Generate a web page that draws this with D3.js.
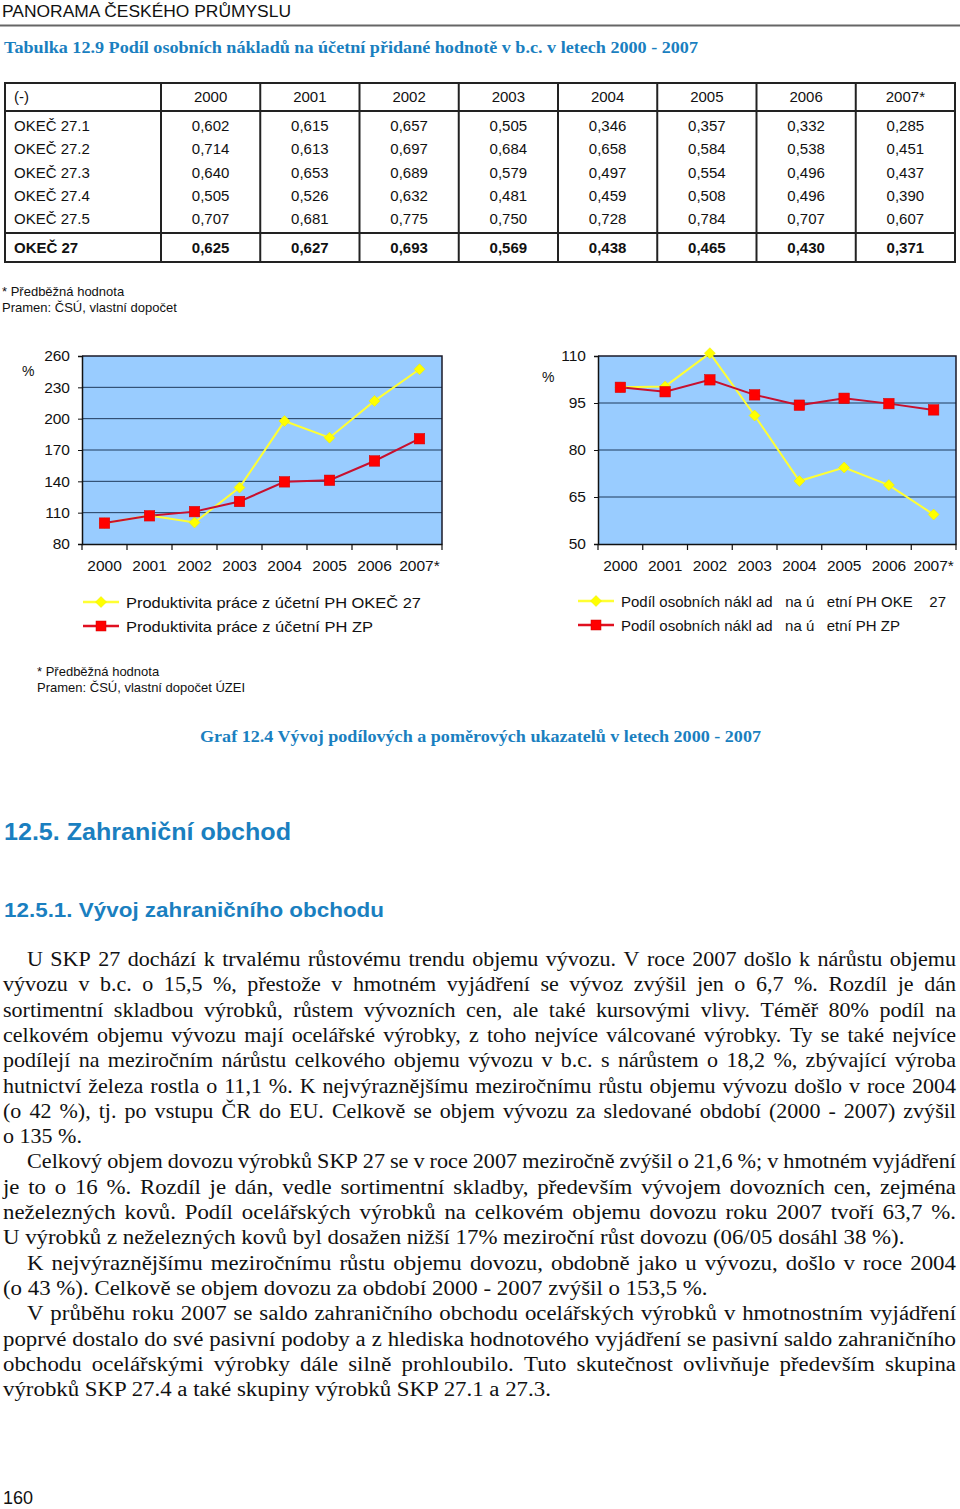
<!DOCTYPE html>
<html><head><meta charset="utf-8">
<script src="https://cdn.jsdelivr.net/npm/d3@7"></script>
<style>
html,body{margin:0;padding:0;background:#fff;}
svg{display:block;}
</style></head><body>
<svg id="page" width="960" height="1509"></svg>
<script>
// ---------------- DATA ----------------
const years = ["2000","2001","2002","2003","2004","2005","2006","2007*"];
const tableRowLabels = ["OKEČ 27.1","OKEČ 27.2","OKEČ 27.3","OKEČ 27.4","OKEČ 27.5"];
const okec271 = ["0,602","0,615","0,657","0,505","0,346","0,357","0,332","0,285"];
const okec272 = ["0,714","0,613","0,697","0,684","0,658","0,584","0,538","0,451"];
const okec273 = ["0,640","0,653","0,689","0,579","0,497","0,554","0,496","0,437"];
const okec274 = ["0,505","0,526","0,632","0,481","0,459","0,508","0,496","0,390"];
const okec275 = ["0,707","0,681","0,775","0,750","0,728","0,784","0,707","0,607"];
const okec27Total = ["0,625","0,627","0,693","0,569","0,438","0,465","0,430","0,371"];
const totalLabel = "OKEČ 27";

const prodOkec27 = [100,107.3,100.6,134,197.7,181.8,217,247.3];
const prodZP     = [100,107,111,120.7,139.5,141,159.5,180.8];
const shareOkec27 = [100,100.3,110.9,91.0,70.1,74.4,68.8,59.4];
const shareZP     = [100,98.6,102.4,97.6,94.3,96.5,94.8,92.8];
const prodTicks = [80,110,140,170,200,230,260];
const shareTicks = [50,65,80,95,110];

const legendLeft = ["Produktivita práce z účetní PH OKEČ 27","Produktivita práce z účetní PH ZP"];
const legendRight = ["Podíl osobních nákl ad   na ú   etní PH OKE    27","Podíl osobních nákl ad   na ú   etní PH ZP"];

const bodyParagraphs = [
 ["U SKP 27 dochází k trvalému růstovému trendu objemu vývozu. V roce 2007 došlo k nárůstu objemu",
  "vývozu v b.c. o 15,5 %, přestože v hmotném vyjádření se vývoz zvýšil jen o 6,7 %. Rozdíl je dán",
  "sortimentní skladbou výrobků, růstem vývozních cen, ale také kursovými vlivy. Téměř 80% podíl na",
  "celkovém objemu vývozu mají ocelářské výrobky, z toho nejvíce válcované výrobky. Ty se také nejvíce",
  "podílejí na meziročním nárůstu celkového objemu vývozu v b.c. s nárůstem o 18,2 %, zbývající výroba",
  "hutnictví železa rostla o 11,1 %. K nejvýraznějšímu meziročnímu růstu objemu vývozu došlo v roce 2004",
  "(o 42 %), tj. po vstupu ČR do EU. Celkově se objem vývozu za sledované období (2000 - 2007) zvýšil",
  "o 135 %."],
 ["Celkový objem dovozu výrobků SKP 27 se v roce 2007 meziročně zvýšil o 21,6 %; v hmotném vyjádření",
  "je to o 16 %. Rozdíl je dán, vedle sortimentní skladby, především vývojem dovozních cen, zejména",
  "neželezných kovů. Podíl ocelářských výrobků na celkovém objemu dovozu roku 2007 tvoří 63,7 %.",
  "U výrobků z neželezných kovů byl dosažen nižší 17% meziroční růst dovozu (06/05 dosáhl 38 %)."],
 ["K nejvýraznějšímu meziročnímu růstu objemu dovozu, obdobně jako u vývozu, došlo v roce 2004",
  "(o 43 %). Celkově se objem dovozu za období 2000 - 2007 zvýšil o 153,5 %."],
 ["V průběhu roku 2007 se saldo zahraničního obchodu ocelářských výrobků v hmotnostním vyjádření",
  "poprvé dostalo do své pasivní podoby a z hlediska hodnotového vyjádření se pasivní saldo zahraničního",
  "obchodu ocelářskými výrobky dále silně prohloubilo. Tuto skutečnost ovlivňuje především skupina",
  "výrobků SKP 27.4 a také skupiny výrobků SKP 27.1 a 27.3."]
];

// ---------------- STYLE ----------------
const SANS = "'Liberation Sans', Arial, Helvetica, sans-serif";
const SERIF = "'Liberation Serif', 'Times New Roman', serif";
const BLUE = "#1a7fc0";
const svg = d3.select("#page");

// ---------------- HEADER ----------------
svg.append("text").attr("x",2).attr("y",17).attr("font-family",SANS).attr("font-size",16)
  .attr("textLength",289).attr("lengthAdjust","spacingAndGlyphs").attr("fill","#111")
  .text("PANORAMA ČESKÉHO PRŮMYSLU");
svg.append("line").attr("x1",0).attr("x2",960).attr("y1",25.5).attr("y2",25.5)
  .attr("stroke","#666").attr("stroke-width",2);
svg.append("text").attr("x",4).attr("y",53).attr("font-family",SERIF).attr("font-weight","bold")
  .attr("font-size",17).attr("fill",BLUE).attr("textLength",694).attr("lengthAdjust","spacingAndGlyphs")
  .text("Tabulka 12.9 Podíl osobních nákladů na účetní přidané hodnotě v b.c. v letech 2000 - 2007");

// ---------------- TABLE ----------------
const tx = d3.scaleBand().domain(years).range([161,955]);
const tableRows = [okec271,okec272,okec273,okec274,okec275];
const rowY = d3.scaleBand().domain(tableRowLabels).range([113.5,230.5]);
const tg = svg.append("g").attr("font-family",SANS).attr("font-size",15).attr("fill","#111");
const TL = {l:5,r:955,t:83,hb:111,tb:233,b:262};
tg.append("rect").attr("x",TL.l).attr("y",TL.t).attr("width",TL.r-TL.l).attr("height",TL.b-TL.t)
  .attr("fill","none").attr("stroke","#222").attr("stroke-width",2);
[TL.hb,TL.tb].forEach(y=>tg.append("line").attr("x1",TL.l).attr("x2",TL.r).attr("y1",y).attr("y2",y)
  .attr("stroke","#222").attr("stroke-width",2));
years.forEach(yr=>tg.append("line").attr("x1",tx(yr)).attr("x2",tx(yr)).attr("y1",TL.t).attr("y2",TL.b)
  .attr("stroke","#222").attr("stroke-width",2));
tg.append("text").attr("x",14).attr("y",102).text("(-)");
years.forEach(yr=>tg.append("text").attr("x",tx(yr)+tx.bandwidth()/2).attr("y",102)
  .attr("text-anchor","middle").text(yr));
tableRows.forEach((row,i)=>{
  const cy = rowY(tableRowLabels[i])+rowY.bandwidth()/2+5.5;
  tg.append("text").attr("x",14).attr("y",cy).text(tableRowLabels[i]);
  row.forEach((v,j)=>tg.append("text").attr("x",tx(years[j])+tx.bandwidth()/2).attr("y",cy)
    .attr("text-anchor","middle").text(v));
});
tg.append("text").attr("x",14).attr("y",253).attr("font-weight","bold").text(totalLabel);
okec27Total.forEach((v,j)=>tg.append("text").attr("x",tx(years[j])+tx.bandwidth()/2).attr("y",253)
  .attr("text-anchor","middle").attr("font-weight","bold").text(v));

const fn = svg.append("g").attr("font-family",SANS).attr("font-size",13).attr("fill","#111");
fn.append("text").attr("x",2).attr("y",296).text("* Předběžná hodnota");
fn.append("text").attr("x",2).attr("y",312).text("Pramen: ČSÚ, vlastní dopočet");

// ---------------- CHARTS ----------------
function diamond(sel, cx, cy, r){
  sel.append("path").attr("d",`M${cx},${cy-r}L${cx+r},${cy}L${cx},${cy+r}L${cx-r},${cy}Z`)
    .attr("fill","#ffff00").attr("stroke","#e8e800").attr("stroke-width",0.5);
}
function square(sel, cx, cy, s){
  sel.append("rect").attr("x",cx-s/2).attr("y",cy-s/2).attr("width",s).attr("height",s)
    .attr("fill","#ff0000").attr("stroke","#d00000").attr("stroke-width",0.5);
}
function drawChart(o){
  const g = svg.append("g").attr("font-family",SANS).attr("font-size",15.5).attr("fill","#111");
  const x = d3.scaleBand().domain(years).range([o.x0,o.x1]);
  const y = d3.scaleLinear().domain(o.domain).range([o.y1,o.y0]);
  g.append("rect").attr("x",o.x0).attr("y",o.y0).attr("width",o.x1-o.x0).attr("height",o.y1-o.y0)
    .attr("fill","#99ccff");
  g.append("g").selectAll("line").data(o.ticks.slice(1,-1)).join("line")
    .attr("x1",o.x0).attr("x2",o.x1).attr("y1",d=>y(d)).attr("y2",d=>y(d))
    .attr("stroke","#1f3a5c").attr("stroke-width",1);
  g.append("path").attr("d",`M${o.x0},${o.y0}H${o.x1}V${o.y1}`).attr("fill","none")
    .attr("stroke","#1a1a2a").attr("stroke-width",1.5);
  const ya = g.append("g").attr("transform",`translate(${o.x0},0)`)
    .call(d3.axisLeft(y).tickValues(o.ticks).tickSize(4).tickPadding(8).tickFormat(d3.format("d")));
  ya.select(".domain").attr("stroke","#111").attr("stroke-width",1.5);
  ya.selectAll(".tick line").attr("stroke","#111");
  ya.selectAll("text").attr("font-size",15.5).attr("font-family",SANS).attr("fill","#111");
  const xa = g.append("g").attr("transform",`translate(0,${o.y1})`)
    .call(d3.axisBottom(x).tickSize(0).tickPadding(16));
  xa.select(".domain").attr("stroke","#111").attr("stroke-width",1.5);
  xa.selectAll("text").attr("font-size",15.5).attr("font-family",SANS).attr("fill","#111");
  const bounds = years.map(d=>x(d)).concat([o.x1]);
  g.append("g").selectAll("line").data(bounds).join("line")
    .attr("x1",d=>d).attr("x2",d=>d).attr("y1",o.y1).attr("y2",o.y1+6)
    .attr("stroke","#111").attr("stroke-width",1.2);
  g.append("text").attr("x",o.pct[0]).attr("y",o.pct[1]).attr("font-size",14).text("%");
  const cx = (d,i)=>x(years[i])+x.bandwidth()/2;
  const line = d3.line().x((d,i)=>cx(d,i)).y(d=>y(d));
  g.append("path").datum(o.s1).attr("d",line).attr("fill","none").attr("stroke","#ffff33").attr("stroke-width",2);
  g.append("path").datum(o.s2).attr("d",line).attr("fill","none").attr("stroke","#c8102e").attr("stroke-width",2);
  o.s1.forEach((d,i)=>diamond(g,cx(d,i),y(d),5.5));
  o.s2.forEach((d,i)=>square(g,cx(d,i),y(d),10.5));
  const lg = g.append("g");
  o.legend.forEach((t,i)=>{
    const ly = o.leg[1]+i*24;
    lg.append("line").attr("x1",o.leg[0]).attr("x2",o.leg[0]+36).attr("y1",ly).attr("y2",ly)
      .attr("stroke",i===0?"#ffff33":"#e01020").attr("stroke-width",2.5);
    if(i===0) diamond(lg,o.leg[0]+18,ly,5.5); else square(lg,o.leg[0]+18,ly,10);
    lg.append("text").attr("x",o.leg[0]+43).attr("y",ly+5.5).attr("font-size",15)
      .attr("textLength",o.legW[i]).attr("lengthAdjust","spacingAndGlyphs")
      .style("white-space","pre").attr("xml:space","preserve").text(t);
  });
}
drawChart({x0:82,x1:442,y0:356,y1:544,domain:[80,260],ticks:prodTicks,s1:prodOkec27,s2:prodZP,
  pct:[22,376],leg:[83,602],legend:legendLeft,legW:[295,247]});
drawChart({x0:598,x1:956,y0:356,y1:544,domain:[50,110],ticks:shareTicks,s1:shareOkec27,s2:shareZP,
  pct:[542,382],leg:[578,601],legend:legendRight,legW:[325,279]});

fn.append("text").attr("x",37).attr("y",676).text("* Předběžná hodnota");
fn.append("text").attr("x",37).attr("y",692).text("Pramen: ČSÚ, vlastní dopočet ÚZEI");

svg.append("text").attr("x",200).attr("y",742).attr("font-family",SERIF).attr("font-weight","bold")
  .attr("font-size",17).attr("fill",BLUE).attr("textLength",561).attr("lengthAdjust","spacingAndGlyphs")
  .text("Graf 12.4 Vývoj podílových a poměrových ukazatelů v letech 2000 - 2007");

// ---------------- SECTION HEADINGS ----------------
svg.append("text").attr("x",4).attr("y",840).attr("font-family",SANS).attr("font-weight","bold")
  .attr("font-size",23.5).attr("fill",BLUE).attr("textLength",287).attr("lengthAdjust","spacingAndGlyphs")
  .text("12.5. Zahraniční obchod");
svg.append("text").attr("x",4).attr("y",917).attr("font-family",SANS).attr("font-weight","bold")
  .attr("font-size",20.5).attr("fill",BLUE).attr("textLength",380).attr("lengthAdjust","spacingAndGlyphs")
  .text("12.5.1. Vývoj zahraničního obchodu");

// ---------------- BODY TEXT ----------------
const bodyG = svg.append("g").attr("font-family",SERIF).attr("font-size",20).attr("fill","#111");
const measure = s => { const t = bodyG.append("text").text(s); const w = t.node().getComputedTextLength(); t.remove(); return w; };
const LEFT = 3, RIGHT = 956, LH = 25.3, BASE0 = 966, INDENT = 24;
const lastTargets = [79, 902, 705, 548];
const parFont = [21, 20, 20, 20];
let li = 0;
bodyParagraphs.forEach((par,p)=>{
  const fs = parFont[p];
  const ms = s => measure(s)*fs/20;
  const lastW = ms(par[par.length-1]);
  let s = lastTargets[p]/lastW;
  if(p===0) s = Math.min(1.06, Math.max(0.97, s));
  par.forEach((t,k)=>{
    const xs = LEFT + (k===0?INDENT:0);
    const yb = BASE0 + li*LH;
    const isLast = k===par.length-1;
    const g = bodyG.append("text").attr("font-size",fs);
    if(isLast){
      g.attr("transform",`translate(${xs},${yb}) scale(${s},1)`).text(t);
    } else {
      const words = t.split(" ");
      const ww = words.map(ms);
      const sumW = d3.sum(ww);
      const aw = RIGHT - xs;
      let sl = s;
      const minGap = 4.5;
      if((sumW + minGap*(words.length-1))*sl > aw) sl = aw/(sumW + minGap*(words.length-1));
      const gap = (aw/sl - sumW)/(words.length-1);
      g.attr("transform",`translate(${xs},${yb}) scale(${sl},1)`);
      let cx = 0;
      words.forEach((w,i)=>{ g.append("tspan").attr("x",cx).text(w); cx += ww[i] + gap; });
    }
    li++;
  });
});

svg.append("text").attr("x",3).attr("y",1504).attr("font-family",SANS).attr("font-size",18).attr("fill","#111").text("160");
</script>
</body></html>
